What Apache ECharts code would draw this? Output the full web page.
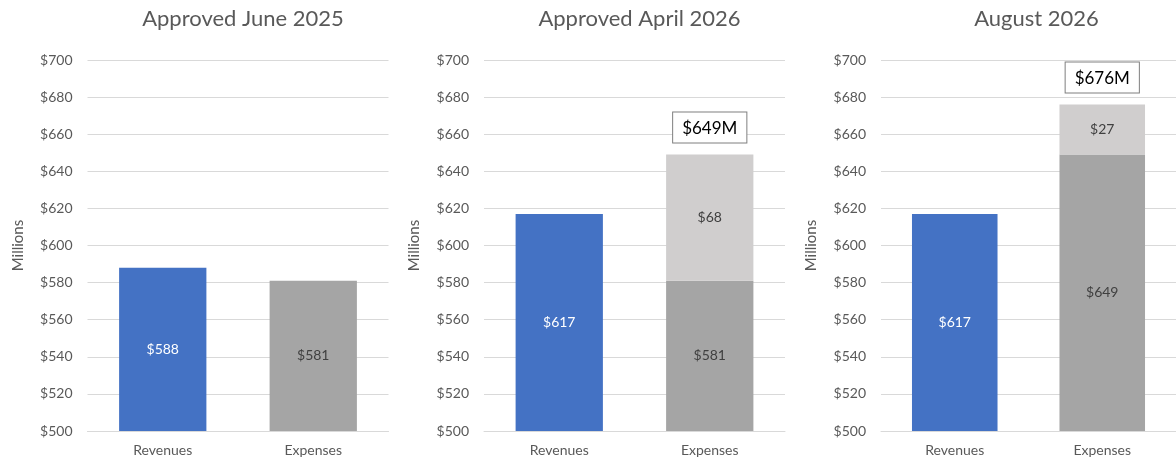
<!DOCTYPE html>
<html>
<head>
<meta charset="utf-8">
<script src="https://cdn.jsdelivr.net/npm/echarts@6/dist/echarts.min.js"></script>
<style>
  html, body { margin: 0; padding: 0; background: #fff; }
  #chart { width: 1176px; height: 461px; }
</style>
</head>
<body>
<div id="chart"></div>
<script>
// panel titles and categories
const panelTitles = ['Approved June 2025', 'Approved April 2026', 'August 2026'];
const categories = ['Revenues', 'Expenses'];

// values in $ millions, per panel: [Revenues, Expenses]
const baseValues = [
	[588, 581],
	[617, 581],
	[617, 649]
];
// extra expense on top of base (null = none)
const addedValues = [
	[null, null],
	[null, 68],
	[null, 27]
];

const yTicks = { min: 500, max: 700, interval: 20 };

const textColor = '#595959';
const fontFamily = 'Lato, "Open Sans", sans-serif';
const panelLefts = [87.5, 484, 881];
const panelWidth = 301;

const chart = echarts.init(document.getElementById('chart'));

const grids = [], xAxes = [], yAxes = [], series = [], titles = [];

panelTitles.forEach((t, i) => {
	titles.push({
		text: t,
		left: panelLefts[i] + panelWidth / 2,
		textAlign: 'center',
		top: 3,
		textStyle: { color: textColor, fontSize: 22, fontWeight: 'normal', fontFamily }
	});
	grids.push({ left: panelLefts[i], width: panelWidth, top: 60, height: 371 });
	xAxes.push({
		type: 'category',
		gridIndex: i,
		data: categories,
		axisTick: { show: false },
		axisLine: { lineStyle: { color: '#D9D9D9' } },
		axisLabel: { color: textColor, fontSize: 14, fontFamily, margin: 12 }
	});
	yAxes.push({
		type: 'value',
		gridIndex: i,
		min: yTicks.min,
		max: yTicks.max,
		interval: yTicks.interval,
		name: 'Millions',
		nameLocation: 'middle',
		nameGap: 62,
		nameTextStyle: { color: textColor, fontSize: 15, fontFamily },
		axisLabel: { color: textColor, fontSize: 14, fontFamily, margin: 15, formatter: '${value}' },
		axisLine: { show: false },
		axisTick: { show: false },
		splitLine: { lineStyle: { color: '#D9D9D9' } }
	});

	const hasAdded = addedValues[i].some(v => v != null);

	// base bars
	series.push({
		type: 'bar',
		xAxisIndex: i,
		yAxisIndex: i,
		stack: 'p' + i,
		barWidth: '58%',
		data: baseValues[i].map((v, j) => ({
			value: v,
			itemStyle: { color: j === 0 ? '#4472C4' : '#A5A5A5' },
			label: { color: j === 0 ? '#FFFFFF' : '#404040' }
		})),
		label: {
			show: true,
			position: 'inside',
			fontSize: 14,
			fontFamily,
			formatter: p => '$' + p.value
		}
	});

	if (hasAdded) {
		series.push({
			type: 'bar',
			xAxisIndex: i,
			yAxisIndex: i,
			stack: 'p' + i,
			barWidth: '58%',
			itemStyle: { color: '#D0CECE' },
			data: addedValues[i],
			label: {
				show: true,
				position: 'inside',
				color: '#404040',
				fontSize: 14,
				fontFamily,
				formatter: p => p.value == null ? '' : '$' + p.value
			}
		});
		// zero-height bar carrying the total box
		const totals = baseValues[i].map((v, j) => addedValues[i][j] == null ? null : 0);
		series.push({
			type: 'bar',
			xAxisIndex: i,
			yAxisIndex: i,
			stack: 'p' + i,
			barWidth: '58%',
			itemStyle: { color: 'transparent' },
			data: totals,
			label: {
				show: true,
				position: 'top',
				distance: 12,
				color: '#000000',
				fontSize: 17,
				fontFamily,
				backgroundColor: '#FFFFFF',
				borderColor: '#7F7F7F',
				borderWidth: 1,
				padding: [7, 9, 6, 9],
				formatter: p => {
					const j = p.dataIndex;
					return '$' + (baseValues[i][j] + addedValues[i][j]) + 'M';
				}
			}
		});
	}
});

chart.setOption({
	animation: false,
	title: titles,
	grid: grids,
	xAxis: xAxes,
	yAxis: yAxes,
	series: series
});
</script>
</body>
</html>
